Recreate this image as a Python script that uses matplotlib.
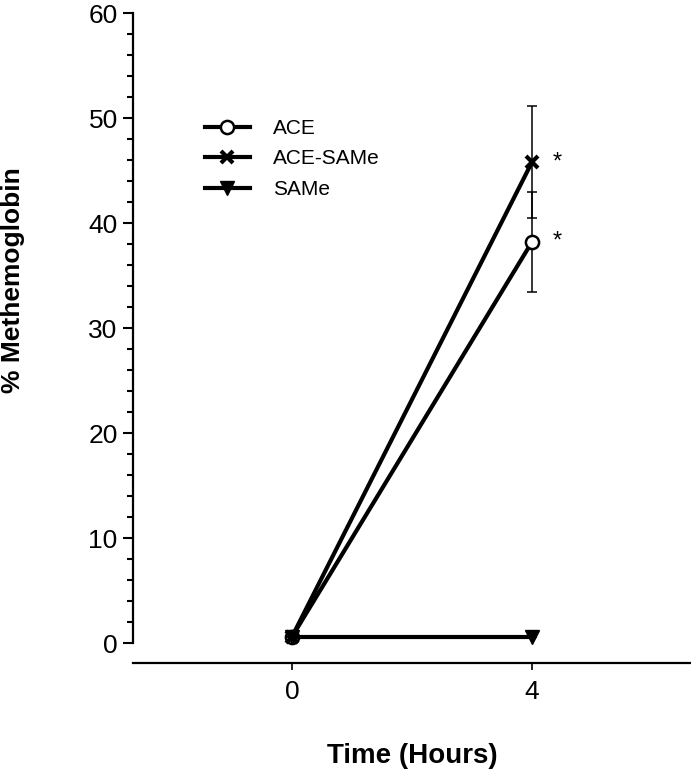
import matplotlib.pyplot as plt
import numpy as np

plt.rcParams['font.family'] = ['Liberation Sans', 'DejaVu Sans']

# data
hours = [0, 4]
ace = [0.6, 38.2]
ace_err = [0, 4.8]
ace_same = [0.6, 45.8]
ace_same_err = [0, 5.3]
same = [0.6, 0.6]
same_err = [0, 0]

fig = plt.figure(figsize=(6.91, 7.72), dpi=100)
ax = fig.add_axes([133 / 691, 1 - 663 / 772, 1 - 133 / 691, 650 / 772])

series = [
    ("ACE", ace, ace_err, dict(marker='o', mfc='white', mec='black', ms=9.5, mew=1.8)),
    ("ACE-SAMe", ace_same, ace_same_err, dict(marker='x', mfc='black', mec='black', ms=9, mew=3)),
    ("SAMe", same, same_err, dict(marker='v', mfc='black', mec='black', ms=10, mew=1)),
]

for name, vals, err, style in series:
    ax.errorbar(hours, vals, yerr=err, fmt='none', ecolor='black', elinewidth=1.1,
                capsize=3.8, capthick=1.1)
    ax.plot(hours, vals, color='black', lw=3, label=name, **style)

# significance marks
ax.text(4.42, ace_same[1], "*", fontsize=17, va='center', ha='center')
ax.text(4.42, ace[1], "*", fontsize=17, va='center', ha='center')

ax.set_xlim(-2.65, 6.65)
ax.set_ylim(-1.9, 60)
ax.set_xticks([0, 4])
ax.set_yticks(np.arange(0, 61, 10))
ax.set_yticks(np.arange(0, 61, 2), minor=True)

ax.spines['top'].set_visible(False)
ax.spines['right'].set_visible(False)
ax.spines['left'].set_bounds(0, 60)
ax.spines['left'].set_linewidth(1.6)
ax.spines['bottom'].set_linewidth(1.6)

ax.tick_params(axis='y', which='major', length=7, width=1.5, pad=4, labelsize=19)
ax.tick_params(axis='y', which='minor', length=4, width=1.5)
ax.tick_params(axis='x', which='major', length=5, width=1.2, pad=7, labelsize=19)

# axis titles placed in figure pixels so they stay inside the canvas
fig.text(1 / 691, 1 - 280 / 772, "% Methemoglobin", rotation=90, fontsize=19,
         fontweight='bold', ha='left', va='center')
fig.text(412 / 691, 1 - 763 / 772, "Time (Hours)", fontsize=20,
         fontweight='bold', ha='center', va='baseline')

ax.legend(loc='upper left', bbox_to_anchor=(0.129, 0.837), frameon=False,
          borderaxespad=0, borderpad=0, fontsize=15, handlelength=2.16,
          handletextpad=1.09, labelspacing=0.55)

fig.savefig("out.png", dpi=100)
